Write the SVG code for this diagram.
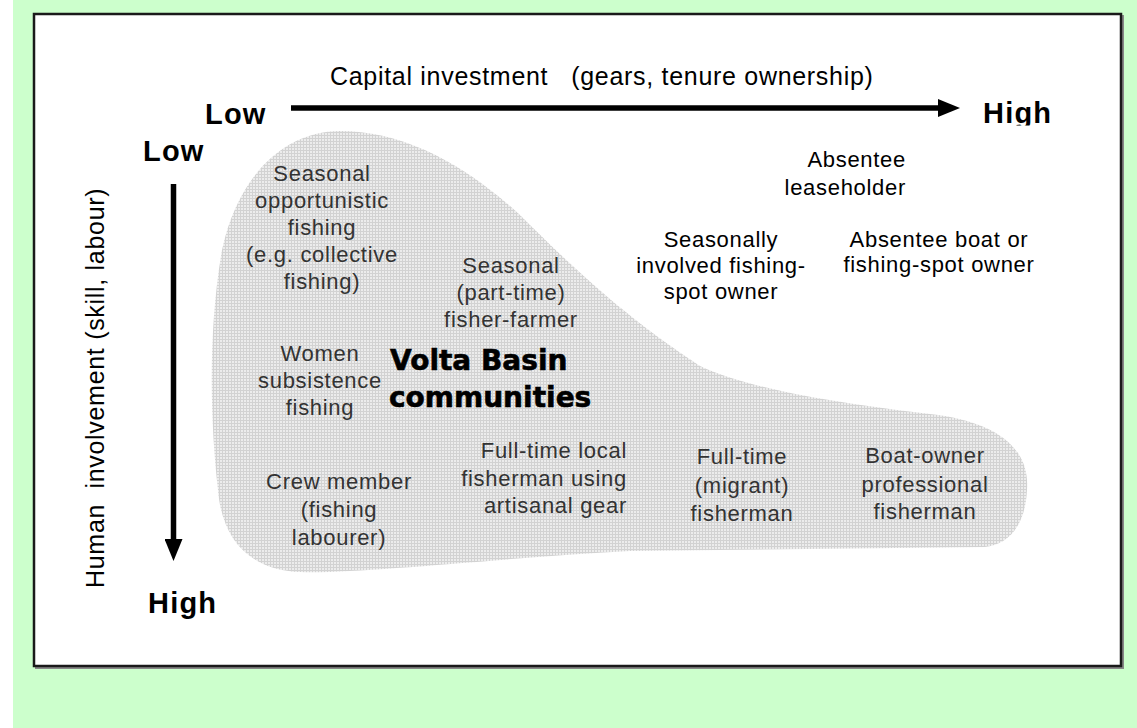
<svg xmlns="http://www.w3.org/2000/svg" width="1137" height="728" viewBox="0 0 1137 728">
<defs>
<pattern id="dots" width="3" height="3" patternUnits="userSpaceOnUse">
<rect width="3" height="3" fill="#ececec"/>
<rect width="3" height="1" fill="#d2d2d2"/>
<rect width="1" height="3" fill="#d2d2d2"/>
</pattern>
<marker id="ah" viewBox="0 0 22 18" refX="4" refY="9" markerWidth="22" markerHeight="18" markerUnits="userSpaceOnUse" orient="auto">
<path d="M0,0 L22,9 L0,18 Z" fill="#000"/>
</marker>
<clipPath id="clipHigh"><rect x="970" y="90" width="100" height="35.5"/></clipPath>
<style>
.lbl{font-family:"Liberation Sans",Arial,sans-serif;font-size:22px;letter-spacing:0.7px;text-anchor:middle}
.in{fill:#333}
.out{fill:#000}
.end{text-anchor:end}
.axis{font-family:"Liberation Sans",Arial,sans-serif;font-size:29px;font-weight:bold;letter-spacing:1.2px;fill:#000}
.title{font-family:"Liberation Sans",Arial,sans-serif;font-size:25px;letter-spacing:0.7px;fill:#000}
.big{font-family:"DejaVu Sans","Liberation Sans",sans-serif;font-size:28px;font-weight:bold;fill:#000;stroke:#000;stroke-width:0.6}
.ax{stroke:#000;stroke-width:5.5;fill:none;marker-end:url(#ah)}
</style>
</defs>
<rect x="0" y="0" width="1137" height="728" fill="#ffffff"/>
<rect x="13" y="0" width="1124" height="728" fill="#ccffcc"/>
<rect x="36" y="16" width="1087" height="652" fill="none" stroke="#888" stroke-width="2"/>
<rect x="34" y="14" width="1087" height="652" fill="#ffffff" stroke="#1a1a1a" stroke-width="2.5"/>

<g id="region">
<path d="M340,131 C400,131 460,160 520,215 C580,275 630,320 700,366 C750,390 850,405 930,414 C1000,422 1030,450 1027,490 C1025,530 1005,545 985,547 L630,551 C500,558 360,574 300,572 C250,570 222,540 218,490 C210,420 208,330 222,250 C238,175 285,131 340,131 Z" fill="url(#dots)"/>
<text class="big" x="390" y="370">Volta Basin</text>
<text class="big" x="389" y="407">communities</text>
</g>

<g id="connectors">
<line class="ax" x1="291" y1="108" x2="942" y2="108"/>
<line class="ax" x1="173.5" y1="184" x2="173.5" y2="543"/>
</g>

<g id="axis-labels">
<text class="title" x="330" y="85" xml:space="preserve">Capital investment   (gears, tenure ownership)</text>
<text class="axis" x="205" y="124">Low</text>
<text class="axis" x="983" y="123" clip-path="url(#clipHigh)">High</text>
<text class="axis" x="143" y="161">Low</text>
<text class="axis" x="148" y="613">High</text>
<text class="title" transform="translate(104,588) rotate(-90)" xml:space="preserve">Human  involvement (skill, labour)</text>
</g>

<g id="n-seasonal-opportunistic" class="lbl in">
<text x="322" y="181">Seasonal</text>
<text x="322" y="208">opportunistic</text>
<text x="322" y="235">fishing</text>
<text x="322" y="262">(e.g. collective</text>
<text x="322" y="289">fishing)</text>
</g>
<g id="n-fisher-farmer" class="lbl in">
<text x="511" y="273">Seasonal</text>
<text x="511" y="300">(part-time)</text>
<text x="511" y="327">fisher-farmer</text>
</g>
<g id="n-women" class="lbl in">
<text x="320" y="361">Women</text>
<text x="320" y="388">subsistence</text>
<text x="320" y="415">fishing</text>
</g>
<g id="n-fulltime-local" class="lbl in end">
<text x="627" y="458">Full-time local</text>
<text x="627" y="486">fisherman using</text>
<text x="627" y="513">artisanal gear</text>
</g>
<g id="n-crew" class="lbl in">
<text x="339" y="489">Crew member</text>
<text x="339" y="517">(fishing</text>
<text x="339" y="545">labourer)</text>
</g>
<g id="n-migrant" class="lbl in">
<text x="742" y="464">Full-time</text>
<text x="742" y="493">(migrant)</text>
<text x="742" y="521">fisherman</text>
</g>
<g id="n-boat-owner" class="lbl in">
<text x="925" y="463">Boat-owner</text>
<text x="925" y="492">professional</text>
<text x="925" y="519">fisherman</text>
</g>
<g id="n-leaseholder" class="lbl out end">
<text x="906" y="167">Absentee</text>
<text x="906" y="195">leaseholder</text>
</g>
<g id="n-absentee-boat" class="lbl out">
<text x="939" y="247">Absentee boat or</text>
<text x="939" y="272">fishing-spot owner</text>
</g>
<g id="n-spot-owner" class="lbl out">
<text x="721" y="247">Seasonally</text>
<text x="721" y="273">involved fishing-</text>
<text x="721" y="299">spot owner</text>
</g>
</svg>
